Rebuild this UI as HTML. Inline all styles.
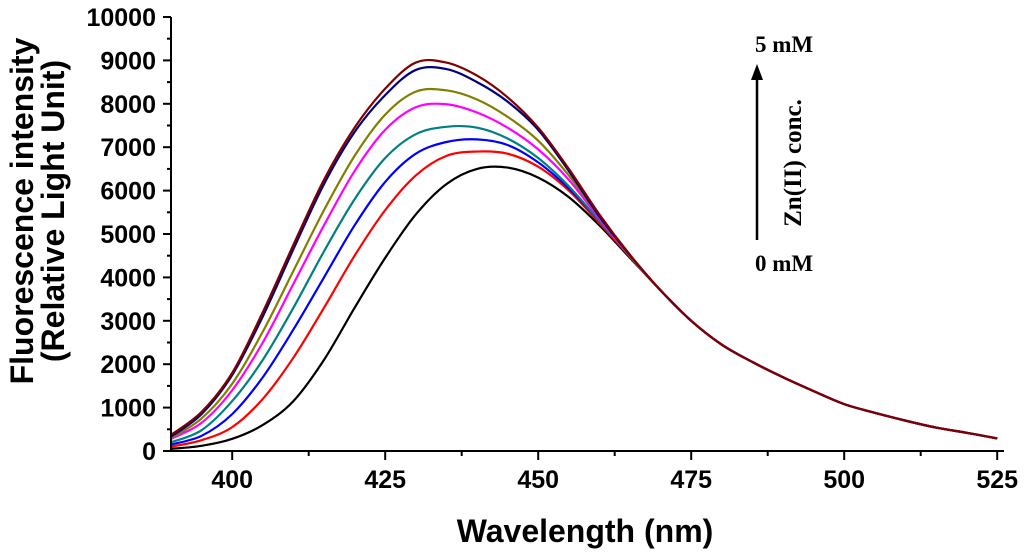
<!DOCTYPE html>
<html><head><meta charset="utf-8"><style>
body{margin:0;background:#fff}
svg{display:block}
.t{font-family:"Liberation Sans",Arial,sans-serif;font-weight:bold}
.s{font-family:"Liberation Serif",serif;font-weight:bold}
</style></head><body>
<svg id="chart" width="1024" height="553" viewBox="0 0 1024 553"></svg>
<script>
const wavelengths=[390,395,400,405,410,415,420,425,430,435,440,445,450,455,460,465,470,475,480,485,490,495,500,505,510,515,520,525];
const tail=[3700,3000,2450,2050,1700,1380,1080,880,700,540,420,290];
const sMaroon=[370,900,1800,3200,4750,6250,7450,8350,8950,8950,8650,8150,7450,6500,5450,4520];
const sNavy=[330,850,1750,3100,4650,6150,7350,8200,8780,8800,8500,8050,7400,6450,5400,4510];
const sOlive=[300,750,1550,2750,4150,5550,6800,7750,8280,8310,8100,7700,7150,6350,5400,4490];
const sMagenta=[280,650,1400,2500,3850,5200,6450,7400,7920,7990,7800,7450,6950,6250,5350,4480];
const sTeal=[200,480,1150,2100,3300,4600,5800,6750,7300,7470,7450,7200,6750,6100,5300,4500];
const sBlue=[150,350,850,1700,2800,4000,5200,6200,6850,7120,7180,7050,6650,6050,5300,4500];
const sRed=[100,250,550,1200,2150,3300,4500,5550,6350,6800,6900,6850,6550,6000,5250,4480];
const sBlack=[50,120,280,600,1150,2100,3300,4450,5450,6150,6500,6530,6300,5850,5200,4450];
const seriesColors=["#000000","#ff0000","#0000ff","#008080","#ff00ff","#808000","#000080","#800000"];
const seriesNames=["0-mM","c2","c3","c4","c5","c6","c7","5-mM"];
const allSeries=[sBlack,sRed,sBlue,sTeal,sMagenta,sOlive,sNavy,sMaroon];
const yTicks=[0,1000,2000,3000,4000,5000,6000,7000,8000,9000,10000];
const xTicks=[400,425,450,475,500,525];

const NS="http://www.w3.org/2000/svg";
const svg=document.getElementById('chart');
const X=w=>171+(w-390)*6.12;
const Y=v=>451-v*0.0434;
function el(tag,attrs,parent){const e=document.createElementNS(NS,tag);for(const k in attrs)e.setAttribute(k,attrs[k]);(parent||svg).appendChild(e);return e;}

allSeries.forEach((s,i)=>{
  const vals=s.concat(tail);
  const pts=wavelengths.map((w,j)=>[X(w),Y(vals[j])]);
  let d="M"+pts[0][0]+","+pts[0][1];
  for(let j=0;j<pts.length-1;j++){
    const p0=pts[Math.max(0,j-1)],p1=pts[j],p2=pts[j+1],p3=pts[Math.min(pts.length-1,j+2)];
    const c1=[p1[0]+(p2[0]-p0[0])/6,p1[1]+(p2[1]-p0[1])/6];
    const c2=[p2[0]-(p3[0]-p1[0])/6,p2[1]-(p3[1]-p1[1])/6];
    d+=` C${c1[0]},${c1[1]} ${c2[0]},${c2[1]} ${p2[0]},${p2[1]}`;
  }
  const p=el('path',{d:d,fill:'none',stroke:seriesColors[i],'stroke-width':2.2});
  
  
});

const ax=el('path',{d:`M171,${Y(10000)} V451 H1004`,fill:'none',stroke:'#000','stroke-width':2});


yTicks.forEach(v=>{
  el('line',{x1:163,x2:171,y1:Y(v),y2:Y(v),stroke:'#000','stroke-width':2});
  if(v<10000) el('line',{x1:167,x2:171,y1:Y(v+500),y2:Y(v+500),stroke:'#000','stroke-width':2});
  const t=el('text',{x:156,y:Y(v)+9,'text-anchor':'end','font-size':25,class:'t'});
  t.textContent=v;
  
  
});
xTicks.forEach(w=>{
  el('line',{x1:X(w),x2:X(w),y1:451,y2:460,stroke:'#000','stroke-width':2});
  if(w<525) el('line',{x1:X(w+12.5),x2:X(w+12.5),y1:451,y2:456,stroke:'#000','stroke-width':2});
  const t=el('text',{x:X(w),y:488,'text-anchor':'middle','font-size':25,class:'t'});
  t.textContent=w;
  
  
});
</script>
<svg width="1024" height="553" style="position:absolute;left:0;top:0">
<text class="t" x="585" y="542" text-anchor="middle" font-size="32">Wavelength (nm)</text>
<g transform="translate(33,211) rotate(-90)">
<text class="t" x="0" y="0" text-anchor="middle" font-size="32">Fluorescence intensity</text>
<text class="t" x="0" y="31" text-anchor="middle" font-size="32">(Relative Light Unit)</text>
</g>
<text class="s" x="784" y="52" text-anchor="middle" font-size="23">5 mM</text>
<text class="s" x="784" y="271" text-anchor="middle" font-size="23">0 mM</text>
<line x1="757" y1="240" x2="757" y2="78" stroke="#000" stroke-width="2.5"/>
<polygon points="757,64 751,80 763,80" fill="#000"/>
<text class="s" transform="translate(801,163) rotate(-90)" text-anchor="middle" font-size="25">Zn(II) conc.</text>
</svg>
</body></html>
